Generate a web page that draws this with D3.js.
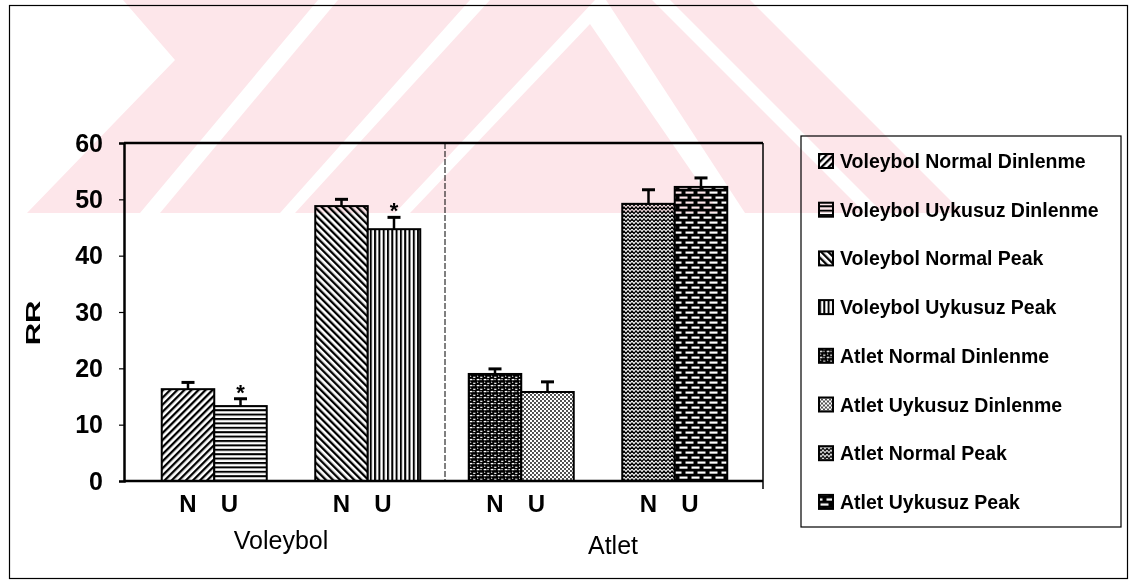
<!DOCTYPE html>
<html><head><meta charset="utf-8">
<script src="https://cdn.jsdelivr.net/npm/d3@7"></script>
<style>body{margin:0;background:#fff;} svg{display:block;}</style>
</head><body><svg id="c" width="1131" height="582"></svg>
<script>
// ---- data ----
const groups = ["Voleybol Dinlenme", "Voleybol Peak", "Atlet Dinlenme", "Atlet Peak"];
const conditions = ["N", "U"];
const seriesNames = ["Voleybol Normal Dinlenme", "Voleybol Uykusuz Dinlenme", "Voleybol Normal Peak", "Voleybol Uykusuz Peak",
                     "Atlet Normal Dinlenme", "Atlet Uykusuz Dinlenme", "Atlet Normal Peak", "Atlet Uykusuz Peak"];
const values = [16.3, 13.3, 48.8, 44.7, 19.0, 15.8, 49.2, 52.2];
const errors = [1.2, 1.3, 1.2, 2.1, 0.9, 1.8, 2.5, 1.6];
const significant = [false, true, false, true, false, false, false, false];
const yTicks = [0, 10, 20, 30, 40, 50, 60];
const sportLabels = ["Voleybol", "Atlet"];
const yLabel = "RR";

// ---- decoration (watermark, faint) ----
const watermark = [
  [[123,0],[318,0],[140,213],[27,213],[175,60]],
  [[338,0],[470,0],[280,213],[160,213]],
  [[490,0],[595,0],[395,213],[295,213]],
  [[590,24],[720,213],[410,213]],
  [[606,0],[652,0],[865,213],[745,213]],
  [[670,0],[750,0],[963,213],[883,213]]
];

const svg = d3.select("#c");
const defs = svg.append("defs");

function pat(id, w, h, draw, transform, bg) {
  const p = defs.append("pattern").attr("id", id).attr("patternUnits", "userSpaceOnUse")
    .attr("width", w).attr("height", h);
  if (transform) p.attr("patternTransform", transform);
  p.append("rect").attr("width", w).attr("height", h).attr("fill", bg || "#fff");
  draw(p);
}
pat("p0", 5, 10, p => p.append("rect").attr("width", 2.3).attr("height", 10).attr("fill", "#000"), "rotate(45)");
pat("p1", 10, 4.4, p => p.append("rect").attr("width", 10).attr("height", 2).attr("fill", "#000"));
pat("p2", 5, 10, p => p.append("rect").attr("width", 2.3).attr("height", 10).attr("fill", "#000"), "rotate(-45)");
pat("p3", 4.3, 10, p => p.append("rect").attr("width", 2).attr("height", 10).attr("fill", "#000"));
pat("p4", 7, 6, p => {
  p.append("path").attr("d", "M0.8,2.2 q1.2,-1.6 2.6,0 M4.2,4.8 q1,1.2 2.2,0 M4.6,1.2 l0.8,0.8 M1.4,4.6 l0.6,-0.8")
    .attr("stroke", "#fff").attr("stroke-width", 1.1).attr("fill", "none");
}, null, "#000");
pat("p5", 4, 4, p => {
  p.append("circle").attr("cx", 1).attr("cy", 1).attr("r", 0.9).attr("fill", "#000");
  p.append("circle").attr("cx", 3).attr("cy", 3).attr("r", 0.9).attr("fill", "#000");
});
pat("p6", 8, 8, p => {
  p.append("path").attr("d", "M0,1 L2,3.5 L4,1 L6,3.5 L8,1 M0,5 L2,7.5 L4,5 L6,7.5 L8,5")
    .attr("stroke", "#fff").attr("stroke-width", 1.1).attr("fill", "none");
}, null, "#000");
pat("p7", 12, 10, p => {
  p.append("rect").attr("x", 1.5).attr("y", 1.5).attr("width", 8).attr("height", 2.2).attr("fill", "#fff");
  p.append("rect").attr("x", -4.5).attr("y", 6.5).attr("width", 8).attr("height", 2.2).attr("fill", "#fff");
  p.append("rect").attr("x", 7.5).attr("y", 6.5).attr("width", 8).attr("height", 2.2).attr("fill", "#fff");
}, null, "#000");

// outer frame
svg.append("rect").attr("x", 9.5).attr("y", 5.5).attr("width", 1118).attr("height", 573)
  .attr("fill", "none").attr("stroke", "#000").attr("stroke-width", 1.2);

// scales
const plot = {left: 124, right: 763, top: 143, bottom: 481};
const y = d3.scaleLinear().domain([0, 60]).range([plot.bottom, plot.top]);
const x = d3.scaleBand().domain(groups).range([137.5, 751.5]);
const xi = d3.scaleBand().domain(conditions).range([0, x.bandwidth()]).paddingOuter(0.462);

const bars = values.map((v, i) => ({
  i, v, e: errors[i], sig: significant[i],
  g: groups[Math.floor(i / 2)], c: conditions[i % 2], name: seriesNames[i]
}));
const bx = d => x(d.g) + xi(d.c);
const font = "Liberation Sans, Arial, sans-serif";

// divider
svg.append("line").attr("x1", 445).attr("x2", 445).attr("y1", plot.top).attr("y2", plot.bottom)
  .attr("stroke", "#000").attr("stroke-width", 1).attr("stroke-dasharray", "6,2");

// bars
svg.append("g").selectAll("rect").data(bars).join("rect")
  .attr("x", bx).attr("width", xi.bandwidth())
  .attr("y", d => y(d.v)).attr("height", d => y(0) - y(d.v))
  .attr("fill", d => `url(#p${d.i})`).attr("stroke", "#000").attr("stroke-width", 2);

// error bars
const eb = svg.append("g").attr("stroke", "#000");
eb.selectAll("line.v").data(bars).join("line").attr("class", "v")
  .attr("x1", d => bx(d) + xi.bandwidth() / 2).attr("x2", d => bx(d) + xi.bandwidth() / 2)
  .attr("y1", d => y(d.v)).attr("y2", d => y(d.v + d.e)).attr("stroke-width", 2.5);
eb.selectAll("line.h").data(bars).join("line").attr("class", "h")
  .attr("x1", d => bx(d) + xi.bandwidth() / 2 - 6.5).attr("x2", d => bx(d) + xi.bandwidth() / 2 + 6.5)
  .attr("y1", d => y(d.v + d.e)).attr("y2", d => y(d.v + d.e)).attr("stroke-width", 3);

// asterisks
svg.append("g").selectAll("text").data(bars.filter(d => d.sig)).join("text")
  .attr("x", d => bx(d) + xi.bandwidth() / 2).attr("y", d => y(d.v + d.e) + 1)
  .attr("text-anchor", "middle").attr("font-family", font)
  .attr("font-weight", "bold").attr("font-size", 22).text("*");

// plot frame lines
svg.append("line").attr("x1", plot.left).attr("x2", plot.right).attr("y1", plot.top).attr("y2", plot.top)
  .attr("stroke", "#000").attr("stroke-width", 2.5);
svg.append("line").attr("x1", plot.right).attr("x2", plot.right).attr("y1", plot.top).attr("y2", plot.bottom + 8)
  .attr("stroke", "#000").attr("stroke-width", 1.5);
svg.append("line").attr("x1", plot.left).attr("x2", plot.right).attr("y1", plot.bottom).attr("y2", plot.bottom)
  .attr("stroke", "#000").attr("stroke-width", 2.5);

// y axis
const ya = svg.append("g").attr("transform", `translate(${plot.left},0)`)
  .call(d3.axisLeft(y).tickValues(yTicks).tickSize(5).tickPadding(16).tickFormat(d3.format("d")));
ya.select(".domain").attr("stroke-width", 2.5);
ya.selectAll(".tick line").attr("stroke-width", 1.2);
ya.selectAll("text").attr("font-family", font)
  .attr("font-weight", "bold").attr("font-size", 25).attr("fill", "#000");

// y label
svg.append("text").attr("transform", "translate(40,323) rotate(-90) scale(1.55,1)")
  .attr("text-anchor", "middle").attr("font-family", font)
  .attr("font-weight", "bold").attr("font-size", 20).text(yLabel);

// N / U labels
svg.append("g").selectAll("text").data(bars).join("text")
  .attr("x", d => bx(d) + xi.bandwidth() / 2 - (d.c === "U" ? 11 : 0)).attr("y", 512)
  .attr("text-anchor", "middle").attr("font-family", font)
  .attr("font-weight", "bold").attr("font-size", 24).text(d => d.c);

// sport labels
const sportX = [ (x(groups[0]) + x(groups[1]) + x.bandwidth()) / 2 - 10, (x(groups[2]) + x(groups[3]) + x.bandwidth()) / 2 + 15 ];
const sportY = [549, 554];
svg.append("g").selectAll("text").data(sportLabels).join("text")
  .attr("x", (d, i) => sportX[i]).attr("y", (d, i) => sportY[i])
  .attr("text-anchor", "middle").attr("font-family", font)
  .attr("font-size", 25).text(d => d);

// legend
const lg = svg.append("g");
lg.append("rect").attr("x", 801).attr("y", 136).attr("width", 320).attr("height", 391)
  .attr("fill", "#fff").attr("stroke", "#000").attr("stroke-width", 1.2);
const li = lg.selectAll("g.item").data(bars).join("g").attr("class", "item")
  .attr("transform", d => `translate(819,${161 + d.i * 48.7})`);
li.append("rect").attr("x", 0).attr("y", -7).attr("width", 14).attr("height", 14)
  .attr("fill", d => `url(#p${d.i})`).attr("stroke", "#000").attr("stroke-width", 2);
li.append("text").attr("x", 21).attr("y", 0).attr("dy", "0.36em")
  .attr("font-family", font).attr("font-weight", "bold")
  .attr("font-size", 19.5).text(d => d.name);

// watermark overlay (multiplied over everything, top band only)
svg.append("g").style("mix-blend-mode", "multiply")
  .selectAll("polygon").data(watermark).join("polygon")
  .attr("points", d => d.map(p => p.join(",")).join(" "))
  .attr("fill", "#fde6ea");
</script></body></html>
